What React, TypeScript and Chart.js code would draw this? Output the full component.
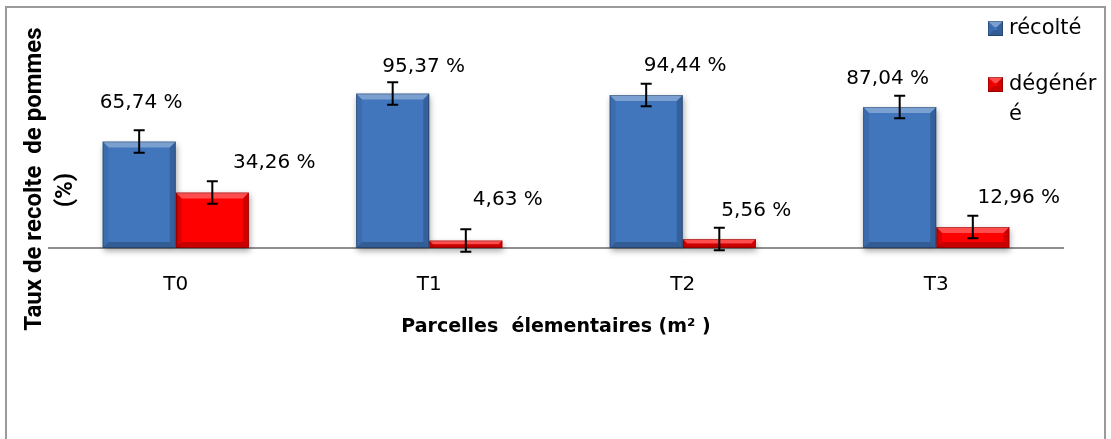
import React, { useEffect, useRef } from "react";
import { Chart, registerables } from "chart.js";

Chart.register(...registerables);

// ---- data ----
const categories = ["T0", "T1", "T2", "T3"];
const seriesNames = ["récolté", "dégénéré"];
const recolte = [65.74, 95.37, 94.44, 87.04];
const degenere = [34.26, 4.63, 5.56, 12.96];
const recolteErr = [7, 7, 7, 7];
const degenereErr = [7, 7, 7, 7];
const recolteLabels = ["65,74 %", "95,37 %", "94,44 %", "87,04 %"];
const degenereLabels = ["34,26 %", "4,63 %", "5,56 %", "12,96 %"];
const legendLines = [["récolté"], ["dégénér", "é"]];
const yTitleLines = ["Taux de recolte  de pommes", "(%)"];
const xTitle = "Parcelles  élementaires (m² )";

// ---- layout / style (not data) ----
const FONT = "'DejaVu Sans', 'Open Sans', sans-serif";
const TITLE_FONT = "Roboto, 'Open Sans', sans-serif";
const BLUE = "#4176bd";
const RED = "#ff0000";
// label centre offsets relative to bar centre / bar top (px)
const labelShift = [
  [[2, -39], [31, -27], [39, -29], [-12, -28]],
  [[62, -30], [42, -41], [37, -28], [46, -29]],
];

function bevel(ctx: CanvasRenderingContext2D, L: number, T: number, R: number, B: number) {
  const h = B - T;
  const b = Math.max(0, Math.min(6, h / 2, (R - L) / 2));
  ctx.save();
  ctx.fillStyle = "rgba(255,255,255,0.30)";
  ctx.beginPath();
  ctx.moveTo(L, T); ctx.lineTo(R, T); ctx.lineTo(R - b, T + b); ctx.lineTo(L + b, T + b); ctx.closePath();
  ctx.fill();
  ctx.fillStyle = "rgba(0,0,0,0.08)";
  ctx.beginPath();
  ctx.moveTo(L, T); ctx.lineTo(L + b, T + b); ctx.lineTo(L + b, B - b); ctx.lineTo(L, B); ctx.closePath();
  ctx.fill();
  ctx.fillStyle = "rgba(0,0,0,0.18)";
  ctx.beginPath();
  ctx.moveTo(R, T); ctx.lineTo(R, B); ctx.lineTo(R - b, B - b); ctx.lineTo(R - b, T + b); ctx.closePath();
  ctx.fill();
  ctx.fillStyle = "rgba(0,0,0,0.22)";
  ctx.beginPath();
  ctx.moveTo(L, B); ctx.lineTo(R, B); ctx.lineTo(R - b, B - b); ctx.lineTo(L + b, B - b); ctx.closePath();
  ctx.fill();
  ctx.strokeStyle = "rgba(0,0,0,0.25)";
  ctx.lineWidth = 1;
  ctx.strokeRect(L + 0.5, T + 0.5, R - L - 1, B - T - 1);
  ctx.restore();
}

const decorPlugin = {
  id: "decor",
  beforeDraw(chart: any) {
    const ctx = chart.ctx as CanvasRenderingContext2D;
    ctx.save();
    ctx.fillStyle = "#ffffff";
    ctx.fillRect(0, 0, chart.width, chart.height);
    ctx.strokeStyle = "#9a9a9a";
    ctx.lineWidth = 2;
    ctx.strokeRect(6, 7, 1099, 460);
    ctx.restore();
  },
  beforeDatasetsDraw(chart: any) {
    const ctx = chart.ctx as CanvasRenderingContext2D;
    ctx.save();
    ctx.shadowColor = "rgba(0,0,0,0.35)";
    ctx.shadowBlur = 6;
    ctx.shadowOffsetY = 3;
    ctx.shadowOffsetX = 1;
  },
  afterDatasetsDraw(chart: any) {
    const ctx = chart.ctx as CanvasRenderingContext2D;
    ctx.restore();
    const yScale = chart.scales.y;
    const errs = [recolteErr, degenereErr];
    const vals = [recolte, degenere];
    const labs = [recolteLabels, degenereLabels];
    chart.data.datasets.forEach((_: any, di: number) => {
      const meta = chart.getDatasetMeta(di);
      meta.data.forEach((bar: any) => {
        const { x, y, base, width } = bar.getProps(["x", "y", "base", "width"], true);
        bevel(ctx, x - width / 2, y, x + width / 2, base);
      });
    });
    chart.data.datasets.forEach((_: any, di: number) => {
      const meta = chart.getDatasetMeta(di);
      meta.data.forEach((bar: any, j: number) => {
        const { x, y } = bar.getProps(["x", "y"], true);
        const v = vals[di][j];
        const e = errs[di][j];
        const yHi = yScale.getPixelForValue(v + e);
        const yLo = yScale.getPixelForValue(v - e);
        ctx.save();
        ctx.strokeStyle = "#000";
        ctx.lineWidth = 2;
        ctx.beginPath();
        ctx.moveTo(x, yHi); ctx.lineTo(x, yLo);
        ctx.moveTo(x - 5.5, yHi); ctx.lineTo(x + 5.5, yHi);
        ctx.moveTo(x - 5.5, yLo); ctx.lineTo(x + 5.5, yLo);
        ctx.stroke();
        ctx.fillStyle = "#000";
        ctx.font = `20px ${FONT}`;
        ctx.textAlign = "center";
        ctx.textBaseline = "middle";
        const [dx, dy] = labelShift[di][j];
        ctx.fillText(labs[di][j], x + dx, y + dy);
        ctx.restore();
      });
    });
  },
  afterDraw(chart: any) {
    const ctx = chart.ctx as CanvasRenderingContext2D;
    ctx.save();
    // y title (two lines, rotated)
    ctx.fillStyle = "#000";
    ctx.font = `bold 24px ${TITLE_FONT}`;
    ctx.textAlign = "center";
    ctx.textBaseline = "alphabetic";
    const drawRot = (t: string, x: number, y: number) => {
      ctx.save();
      ctx.translate(x, y);
      ctx.rotate(-Math.PI / 2);
      ctx.fillText(t, 0, 0);
      ctx.restore();
    };
    drawRot(yTitleLines[0], 41, 179);
    drawRot(yTitleLines[1], 72, 190);
    // legend
    const colors = [BLUE, RED];
    const tops = [21, 77];
    ctx.font = `21px ${FONT}`;
    ctx.textAlign = "left";
    ctx.textBaseline = "middle";
    legendLines.forEach((lines, i) => {
      const sx = 988, sy = tops[i], s = 15;
      ctx.fillStyle = colors[i];
      ctx.fillRect(sx, sy, s, s);
      bevel(ctx, sx, sy, sx + s, sy + s);
      ctx.fillStyle = "#000";
      lines.forEach((ln, k) => {
        ctx.fillText(ln, 1009, sy + s / 2 + k * 30);
      });
    });
    ctx.restore();
  },
};

export default function App() {
  const ref = useRef<HTMLCanvasElement | null>(null);
  useEffect(() => {
    document.body.style.margin = "0";
    const canvas = ref.current!;
    const chart = new Chart(canvas, {
      type: "bar",
      data: {
        labels: categories,
        datasets: [
          { label: seriesNames[0], data: recolte, backgroundColor: BLUE, borderWidth: 0, clip: false } as any,
          { label: seriesNames[1], data: degenere, backgroundColor: RED, borderWidth: 0, clip: false } as any,
        ],
      },
      options: {
        responsive: false,
        animation: false,
        layout: { padding: { left: 49, right: 48, top: 86, bottom: 101 } },
        datasets: { bar: { categoryPercentage: 0.577, barPercentage: 1 } },
        plugins: { legend: { display: false }, tooltip: { enabled: false }, title: { display: false } },
        scales: {
          x: {
            afterFit: (s: any) => { s.height = 90; },
            grid: { display: false, drawTicks: false },
            border: { display: true, color: "#8f8f8f", width: 2 },
            ticks: { color: "#000", font: { family: FONT, size: 20 }, padding: 25 },
            title: {
              display: true,
              text: xTitle,
              color: "#000",
              font: { family: FONT, size: 19, weight: "bold" },
              padding: { top: 17, bottom: 0 },
            },
          },
          y: { display: false, min: 0, max: 100 },
        },
      },
      plugins: [decorPlugin],
    });
    return () => chart.destroy();
  }, []);
  return (
    <div style={{ width: 1111, height: 439 }}>
      <canvas ref={ref} width={1111} height={439} style={{ display: "block" }} />
    </div>
  );
}
